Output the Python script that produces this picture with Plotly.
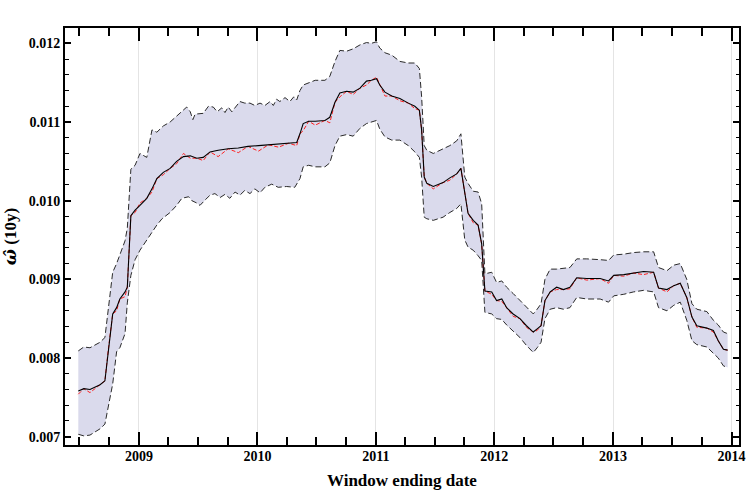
import plotly.graph_objects as go

# window ending dates
dates = [
    "2008-06-28", "2008-07-15", "2008-08-03", "2008-09-03", "2008-09-18", "2008-09-28",
    "2008-10-12", "2008-10-24", "2008-11-03", "2008-11-19", "2008-11-26", "2008-12-07",
    "2008-12-20", "2009-01-04", "2009-01-25", "2009-02-10", "2009-02-25", "2009-03-17",
    "2009-04-07", "2009-04-27", "2009-05-18", "2009-06-08", "2009-06-28", "2009-07-18",
    "2009-08-08", "2009-09-02", "2009-10-03", "2009-11-03", "2009-12-03", "2010-01-04",
    "2010-02-04", "2010-03-07", "2010-04-07", "2010-05-02", "2010-05-12", "2010-05-22",
    "2010-06-08", "2010-06-28", "2010-07-28", "2010-08-12", "2010-08-28", "2010-09-12",
    "2010-10-03", "2010-10-23", "2010-11-13", "2010-12-03", "2010-12-18", "2011-01-03",
    "2011-01-13", "2011-01-29", "2011-02-19", "2011-03-16", "2011-04-11", "2011-05-01",
    "2011-05-15", "2011-05-22", "2011-05-30", "2011-06-07", "2011-06-27", "2011-07-27",
    "2011-08-17", "2011-09-07", "2011-09-20", "2011-10-02", "2011-10-12", "2011-10-28",
    "2011-11-12", "2011-11-23", "2011-12-03", "2011-12-24", "2012-01-08", "2012-01-24",
    "2012-02-08", "2012-02-28", "2012-03-20", "2012-04-09", "2012-04-30", "2012-05-12",
    "2012-05-24", "2012-06-05", "2012-06-21", "2012-07-11", "2012-08-01", "2012-08-21",
    "2012-09-11", "2012-10-12", "2012-11-22", "2012-12-18", "2013-01-03", "2013-02-03",
    "2013-03-05", "2013-04-05", "2013-05-06", "2013-05-21", "2013-06-16", "2013-07-07",
    "2013-07-27", "2013-08-16", "2013-09-01", "2013-09-16", "2013-10-17", "2013-11-06",
    "2013-11-21", "2013-12-07", "2013-12-20",
]

# smoothed estimate (black solid)
omega = [
    0.00758, 0.00761, 0.00760, 0.00766, 0.00771, 0.00809,
    0.00856, 0.00864, 0.00875, 0.00884, 0.00890, 0.00981,
    0.00988, 0.00994, 0.01003, 0.01015, 0.01028, 0.01036,
    0.01041, 0.01050, 0.01056, 0.01057, 0.01054, 0.01055,
    0.01062, 0.01064, 0.01066, 0.01067, 0.01069, 0.01070,
    0.01071, 0.01072, 0.01073, 0.01074, 0.01085, 0.01098,
    0.01101, 0.01101, 0.01102, 0.01106, 0.01125, 0.01137,
    0.01139, 0.01138, 0.01143, 0.01152, 0.01153, 0.01155,
    0.01147, 0.01138, 0.01133, 0.01130, 0.01124, 0.01120,
    0.01115, 0.01090, 0.01030, 0.01022, 0.01018, 0.01023,
    0.01029, 0.01034, 0.01041, 0.01010, 0.00984, 0.00975,
    0.00969, 0.00945, 0.00885, 0.00884, 0.00873, 0.00875,
    0.00864, 0.00856, 0.00850, 0.00841, 0.00833, 0.00837,
    0.00841, 0.00873, 0.00884, 0.00890, 0.00887, 0.00890,
    0.00902, 0.00901, 0.00901, 0.00898, 0.00905, 0.00906,
    0.00908, 0.00910, 0.00909, 0.00889, 0.00887, 0.00892,
    0.00895, 0.00877, 0.00852, 0.00841, 0.00838, 0.00835,
    0.00822, 0.00811, 0.00810,
]

# raw estimate (red dashed), mostly on top of the smoothed one with dips
omega_raw = [
    0.00754, 0.00761, 0.00756, 0.00766, 0.00771, 0.00809,
    0.00856, 0.00860, 0.00875, 0.00878, 0.00890, 0.00981,
    0.00985, 0.00997, 0.01003, 0.01011, 0.01028, 0.01033,
    0.01041, 0.01047, 0.01060, 0.01054, 0.01054, 0.01051,
    0.01062, 0.01056, 0.01066, 0.01061, 0.01069, 0.01063,
    0.01071, 0.01068, 0.01073, 0.01070, 0.01085, 0.01089,
    0.01101, 0.01096, 0.01102, 0.01099, 0.01125, 0.01132,
    0.01139, 0.01135, 0.01143, 0.01147, 0.01153, 0.01157,
    0.01147, 0.01133, 0.01133, 0.01127, 0.01124, 0.01117,
    0.01115, 0.01090, 0.01030, 0.01022, 0.01015, 0.01023,
    0.01026, 0.01034, 0.01041, 0.01010, 0.00984, 0.00972,
    0.00969, 0.00945, 0.00885, 0.00881, 0.00873, 0.00872,
    0.00864, 0.00853, 0.00850, 0.00839, 0.00833, 0.00835,
    0.00841, 0.00873, 0.00884, 0.00887, 0.00887, 0.00888,
    0.00902, 0.00899, 0.00901, 0.00895, 0.00905, 0.00904,
    0.00908, 0.00906, 0.00909, 0.00889, 0.00884, 0.00892,
    0.00895, 0.00877, 0.00852, 0.00839, 0.00838, 0.00833,
    0.00822, 0.00811, 0.00810,
]

# confidence band edges (black dashed), read on their own dates
upper_dates = [
    "2008-06-28", "2008-07-15", "2008-08-03", "2008-09-03", "2008-09-18", "2008-09-28",
    "2008-10-12", "2008-10-24", "2008-11-03", "2008-11-19", "2008-11-26", "2008-12-07",
    "2008-12-20", "2009-01-04", "2009-01-25", "2009-02-10", "2009-02-25", "2009-03-17",
    "2009-04-07", "2009-05-02", "2009-05-18", "2009-05-28", "2009-06-08", "2009-06-16",
    "2009-06-23", "2009-07-18", "2009-08-03", "2009-08-18", "2009-08-30", "2009-09-13",
    "2009-09-23", "2009-10-03", "2009-10-14", "2009-10-29", "2009-11-08", "2009-11-23",
    "2009-12-09", "2009-12-24", "2010-01-09", "2010-01-24", "2010-02-09", "2010-02-19",
    "2010-03-01", "2010-03-11", "2010-03-27", "2010-04-11", "2010-04-23", "2010-05-02",
    "2010-05-12", "2010-05-22",
    "2010-06-08", "2010-06-28", "2010-07-28", "2010-08-12", "2010-08-28", "2010-09-12",
    "2010-10-03", "2010-10-23", "2010-11-13", "2010-12-03", "2010-12-18", "2011-01-03",
    "2011-01-13", "2011-01-29", "2011-02-19", "2011-03-16", "2011-04-11", "2011-05-01",
    "2011-05-15", "2011-05-22", "2011-05-30", "2011-06-07", "2011-06-27", "2011-07-27",
    "2011-08-17", "2011-09-07", "2011-09-20", "2011-10-02", "2011-10-12", "2011-10-28",
    "2011-11-12", "2011-11-23", "2011-12-03", "2011-12-24", "2012-01-08", "2012-01-24",
    "2012-02-08", "2012-02-28", "2012-03-20", "2012-04-09", "2012-04-30", "2012-05-12",
    "2012-05-24", "2012-06-05", "2012-06-21", "2012-07-11", "2012-08-01", "2012-08-21",
    "2012-09-11", "2012-10-12", "2012-11-22", "2012-12-18", "2013-01-03", "2013-02-03",
    "2013-03-05", "2013-04-05", "2013-05-06", "2013-05-21", "2013-06-16", "2013-07-07",
    "2013-07-27", "2013-08-16", "2013-09-01", "2013-09-16", "2013-10-17", "2013-11-06",
    "2013-11-21", "2013-12-07", "2013-12-20",
]
upper = [
    0.00809, 0.00814, 0.00813, 0.00820, 0.00826, 0.00864,
    0.00909, 0.00920, 0.00932, 0.00949, 0.00965, 0.01040,
    0.01045, 0.01060, 0.01055, 0.01090, 0.01087, 0.01095,
    0.01100, 0.01109, 0.01115, 0.01119, 0.01113, 0.01103,
    0.01110, 0.01111, 0.01120, 0.01119, 0.01113, 0.01118,
    0.01112, 0.01119, 0.01113, 0.01121, 0.01126, 0.01124,
    0.01124, 0.01121, 0.01124, 0.01121, 0.01126, 0.01121,
    0.01129, 0.01126, 0.01131, 0.01126, 0.01132, 0.01128,
    0.01140, 0.01147,
    0.01150, 0.01153, 0.01153, 0.01158, 0.01177, 0.01191,
    0.01190, 0.01193, 0.01198, 0.01201, 0.01200, 0.01202,
    0.01194, 0.01188, 0.01185, 0.01177, 0.01175, 0.01175,
    0.01168, 0.01132, 0.01070, 0.01064, 0.01060, 0.01066,
    0.01070, 0.01076, 0.01085, 0.01030, 0.01022, 0.01012,
    0.01011, 0.00996, 0.00907, 0.00909, 0.00896, 0.00898,
    0.00890, 0.00882, 0.00873, 0.00864, 0.00856, 0.00862,
    0.00869, 0.00900, 0.00913, 0.00913, 0.00914, 0.00915,
    0.00926, 0.00926, 0.00925, 0.00924, 0.00931, 0.00932,
    0.00934, 0.00935, 0.00935, 0.00915, 0.00911, 0.00918,
    0.00920, 0.00900, 0.00869, 0.00862, 0.00859, 0.00848,
    0.00842, 0.00833, 0.00831,
]

lower_dates = [
    "2008-06-28", "2008-07-15", "2008-08-03", "2008-09-03", "2008-09-18", "2008-09-28",
    "2008-10-12", "2008-10-24", "2008-11-03", "2008-11-19", "2008-11-26", "2008-12-07",
    "2008-12-20", "2009-01-04", "2009-01-25", "2009-02-10", "2009-02-25", "2009-03-13",
    "2009-04-07", "2009-04-27", "2009-05-13", "2009-06-03", "2009-06-13", "2009-06-28",
    "2009-07-08", "2009-07-24", "2009-08-08", "2009-08-23", "2009-09-08", "2009-09-23",
    "2009-10-08", "2009-10-24", "2009-11-08", "2009-11-23", "2009-12-09", "2009-12-24",
    "2010-01-09", "2010-01-24", "2010-02-14", "2010-03-06", "2010-04-01", "2010-04-26",
    "2010-05-12", "2010-05-22",
    "2010-06-08", "2010-06-28", "2010-07-28", "2010-08-12", "2010-08-28", "2010-09-12",
    "2010-10-03", "2010-10-23", "2010-11-13", "2010-12-03", "2010-12-18", "2011-01-03",
    "2011-01-13", "2011-01-29", "2011-02-19", "2011-03-16", "2011-04-11", "2011-05-01",
    "2011-05-15", "2011-05-22", "2011-05-30", "2011-06-07", "2011-06-27", "2011-07-27",
    "2011-08-17", "2011-09-07", "2011-09-20", "2011-10-02", "2011-10-12", "2011-10-28",
    "2011-11-12", "2011-11-23", "2011-12-03", "2011-12-24", "2012-01-08", "2012-01-24",
    "2012-02-08", "2012-02-28", "2012-03-20", "2012-04-09", "2012-04-30", "2012-05-12",
    "2012-05-24", "2012-06-05", "2012-06-21", "2012-07-11", "2012-08-01", "2012-08-21",
    "2012-09-11", "2012-10-12", "2012-11-22", "2012-12-18", "2013-01-03", "2013-02-03",
    "2013-03-05", "2013-04-05", "2013-05-06", "2013-05-21", "2013-06-16", "2013-07-07",
    "2013-07-27", "2013-08-16", "2013-09-01", "2013-09-16", "2013-10-17", "2013-11-06",
    "2013-11-21", "2013-12-07", "2013-12-20",
]
lower = [
    0.00703, 0.00701, 0.00702, 0.00710, 0.00716, 0.00737,
    0.00767, 0.00808, 0.00813, 0.00831, 0.00870, 0.00905,
    0.00925, 0.00937, 0.00950, 0.00960, 0.00969, 0.00977,
    0.00985, 0.00994, 0.01003, 0.01005, 0.01000, 0.00997,
    0.00994, 0.01001, 0.01007, 0.01009, 0.01004, 0.01008,
    0.01003, 0.01011, 0.01007, 0.01013, 0.01009, 0.01015,
    0.01010, 0.01017, 0.01021, 0.01017, 0.01018, 0.01017,
    0.01028, 0.01043,
    0.01045, 0.01043, 0.01043, 0.01048, 0.01070, 0.01082,
    0.01084, 0.01082, 0.01092, 0.01098, 0.01100, 0.01102,
    0.01091, 0.01081, 0.01077, 0.01077, 0.01070, 0.01062,
    0.01055, 0.01030, 0.00979, 0.00977, 0.00975, 0.00979,
    0.00985, 0.00990, 0.00996, 0.00950, 0.00941, 0.00937,
    0.00930, 0.00924, 0.00858, 0.00856, 0.00850, 0.00849,
    0.00842, 0.00834, 0.00826, 0.00816, 0.00807, 0.00813,
    0.00820, 0.00850, 0.00862, 0.00864, 0.00862, 0.00864,
    0.00877, 0.00875, 0.00875, 0.00871, 0.00879, 0.00881,
    0.00884, 0.00886, 0.00884, 0.00864, 0.00860, 0.00867,
    0.00871, 0.00848, 0.00822, 0.00817, 0.00814, 0.00806,
    0.00800, 0.00790, 0.00788,
]

SERIF = "Liberation Serif"

fig = go.Figure()

# band: upper edge, then lower edge filled up to it
fig.add_trace(go.Scatter(
    x=upper_dates, y=upper, mode="lines",
    line=dict(color="#2a2a2a", width=1, dash="6px,3px"),
    hoverinfo="skip", showlegend=False
))
fig.add_trace(go.Scatter(
    x=lower_dates, y=lower, mode="lines", fill="tonexty",
    fillcolor="rgb(218,218,236)",
    line=dict(color="#2a2a2a", width=1, dash="6px,3px"),
    hoverinfo="skip", showlegend=False
))
fig.add_trace(go.Scatter(
    x=dates, y=omega_raw, mode="lines",
    line=dict(color="#ff2020", width=1, dash="4px,2px"),
    showlegend=False
))
fig.add_trace(go.Scatter(
    x=dates, y=omega, mode="lines",
    line=dict(color="black", width=1.1),
    showlegend=False
))

fig.update_layout(
    width=747, height=498,
    margin=dict(l=65, r=8, t=28, b=53),
    paper_bgcolor="white", plot_bgcolor="white",
    font=dict(family=SERIF, color="black", size=14),
)

fig.update_xaxes(
    type="date", automargin=False,
    range=["2008-05-18", "2014-01-24"],
    dtick="M12", tick0="2009-01-01", tickformat="%Y",
    tickfont=dict(family=SERIF, size=14, weight="bold"),
    ticklabelstandoff=-3,
    ticks="inside", ticklen=13, tickwidth=1.5, tickcolor="black",
    showline=True, linewidth=2, linecolor="black", mirror="allticks",
    showgrid=True, gridcolor="#e4e4e4", gridwidth=1,
    minor=dict(dtick="M3", ticks="inside", ticklen=8, tickwidth=1.5,
               tickcolor="black", showgrid=False),
    zeroline=False,
)

fig.update_yaxes(
    automargin=False,
    range=[0.006894, 0.012195],
    dtick=0.001, tick0=0.007, tickformat=".3f",
    tickfont=dict(family=SERIF, size=14, weight="bold"),
    ticks="inside", ticklen=6, tickwidth=1.5, tickcolor="black",
    showline=True, linewidth=2, linecolor="black", mirror="allticks",
    showgrid=False,
    minor=dict(dtick=0.0002, ticks="inside", ticklen=3.5, tickwidth=1.2,
               tickcolor="black", showgrid=False),
    title=dict(text="<b><span style='font-family:DejaVu Serif'><i>ω̂</i></span> (10y)</b>",
               font=dict(family=SERIF, size=17)),
    zeroline=False,
)

# x title placed by hand so it sits where the reference has it
fig.add_annotation(
    text="<b>Window ending date</b>", xref="paper", yref="paper",
    x=0.5, y=-0.084, xanchor="center", yanchor="middle", showarrow=False,
    font=dict(family=SERIF, size=17, color="black"),
)

# page body has a default 8px margin; drop it so the figure sits at the corner
fig.write_html("out.html", config={"displayModeBar": False},
               post_script="document.body.style.margin='0';")
